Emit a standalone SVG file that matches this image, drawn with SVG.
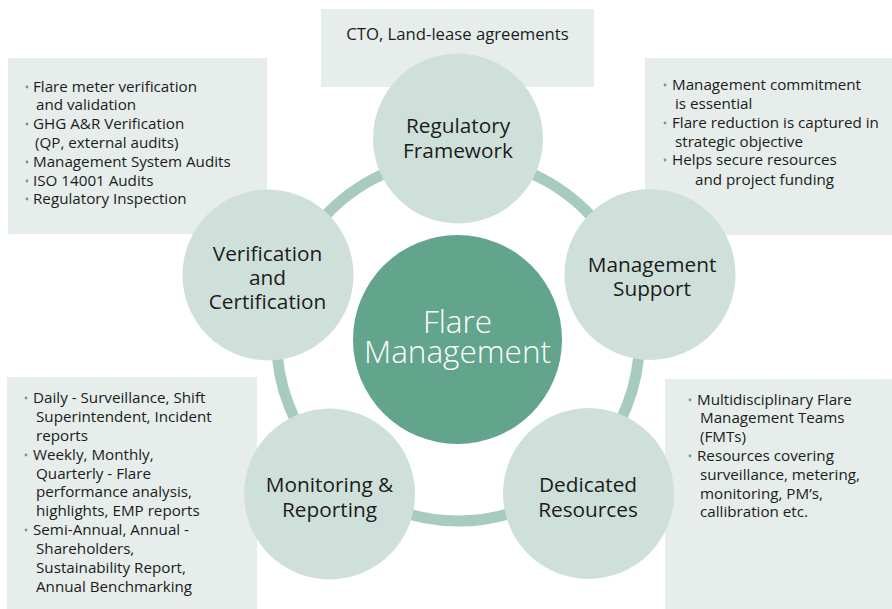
<svg xmlns="http://www.w3.org/2000/svg" width="892" height="609" viewBox="0 0 892 609">
<style>
.box{fill:#e6edeb}
.sat{fill:#cfe0da}
.core{fill:#62a48c}
.ring{fill:none;stroke:#a8cbbf;stroke-width:11}
.b{font-family:"Open Sans","Liberation Sans",sans-serif;font-size:15.2px;fill:#1c1c1c}
.top{font-family:"Open Sans","Liberation Sans",sans-serif;font-size:16.7px;fill:#1c1c1c}
.lab{font-family:"Open Sans","Liberation Sans",sans-serif;font-size:20.8px;fill:#1c1c1c;text-anchor:middle}
.ctr{font-family:"Open Sans","Liberation Sans",sans-serif;font-size:31.5px;font-weight:300;fill:#ffffff;text-anchor:middle}
.dot{fill:#5fa38a}
</style>
<rect width="892" height="609" fill="#ffffff"/>
<g id="boxes">
<g id="box-top"><rect class="box" x="321" y="9" width="273" height="78"/>
<text class="top" x="457.5" y="40" text-anchor="middle">CTO, Land-lease agreements</text></g>
<g id="box-top-left"><rect class="box" x="8" y="58" width="259" height="176"/>
<circle class="dot" cx="27" cy="87" r="1.4"/><text class="b" x="33" y="92">Flare meter verification</text>
<text class="b" x="36" y="110">and validation</text>
<circle class="dot" cx="27" cy="124" r="1.4"/><text class="b" x="33" y="129">GHG A&amp;R Verification</text>
<text class="b" x="35" y="148">(QP, external audits)</text>
<circle class="dot" cx="27" cy="162" r="1.4"/><text class="b" x="33" y="167">Management System Audits</text>
<circle class="dot" cx="27" cy="181" r="1.4"/><text class="b" x="33" y="186">ISO 14001 Audits</text>
<circle class="dot" cx="27" cy="199" r="1.4"/><text class="b" x="33" y="204">Regulatory Inspection</text></g>
<g id="box-top-right"><rect class="box" x="645" y="58" width="247" height="177"/>
<circle class="dot" cx="665" cy="85" r="1.4"/><text class="b" x="672" y="90">Management commitment</text>
<text class="b" x="675" y="109">is essential</text>
<circle class="dot" cx="665" cy="123" r="1.4"/><text class="b" x="672" y="128">Flare reduction is captured in</text>
<text class="b" x="675" y="147">strategic objective</text>
<circle class="dot" cx="665" cy="160" r="1.4"/><text class="b" x="672" y="165">Helps secure resources</text>
<text class="b" x="695" y="185">and project funding</text></g>
<g id="box-bottom-left"><rect class="box" x="7" y="377" width="250" height="232"/>
<circle class="dot" cx="26" cy="398" r="1.4"/><text class="b" x="33" y="403">Daily - Surveillance, Shift</text>
<text class="b" x="36" y="422">Superintendent, Incident</text>
<text class="b" x="36" y="441">reports</text>
<circle class="dot" cx="26" cy="455" r="1.4"/><text class="b" x="33" y="460">Weekly, Monthly,</text>
<text class="b" x="36" y="479">Quarterly - Flare</text>
<text class="b" x="36" y="497">performance analysis,</text>
<text class="b" x="36" y="516">highlights, EMP reports</text>
<circle class="dot" cx="26" cy="530" r="1.4"/><text class="b" x="33" y="535">Semi-Annual, Annual -</text>
<text class="b" x="36" y="554">Shareholders,</text>
<text class="b" x="36" y="573">Sustainability Report,</text>
<text class="b" x="36" y="592">Annual Benchmarking</text></g>
<g id="box-bottom-right"><rect class="box" x="665" y="379" width="227" height="230"/>
<circle class="dot" cx="690" cy="400" r="1.4"/><text class="b" x="697" y="405">Multidisciplinary Flare</text>
<text class="b" x="700" y="423">Management Teams</text>
<text class="b" x="700" y="442">(FMTs)</text>
<circle class="dot" cx="690" cy="456" r="1.4"/><text class="b" x="697" y="461">Resources covering</text>
<text class="b" x="700" y="480">surveillance, metering,</text>
<text class="b" x="700" y="499">monitoring, PM’s,</text>
<text class="b" x="700" y="517">callibration etc.</text></g>
</g>
<g id="connectors">
<circle class="ring" cx="458" cy="339.5" r="181.5"/>
</g>
<g id="node-core"><circle class="core" cx="457.5" cy="339.5" r="104.5"/>
<text class="ctr" x="457.5" y="333">Flare</text>
<text class="ctr" x="457.5" y="363">Management</text></g>
<g id="node-regulatory"><circle class="sat" cx="458" cy="138.5" r="85"/>
<text class="lab" x="458" y="133">Regulatory</text>
<text class="lab" x="458" y="158">Framework</text></g>
<g id="node-management"><circle class="sat" cx="650" cy="274.5" r="85.5"/>
<text class="lab" x="652" y="272">Management</text>
<text class="lab" x="652" y="296">Support</text></g>
<g id="node-dedicated"><circle class="sat" cx="588.5" cy="493.5" r="85.5"/>
<text class="lab" x="588" y="492">Dedicated</text>
<text class="lab" x="588" y="517">Resources</text></g>
<g id="node-monitoring"><circle class="sat" cx="329.5" cy="494" r="85.5"/>
<text class="lab" x="329.5" y="492">Monitoring &amp;</text>
<text class="lab" x="329.5" y="517">Reporting</text></g>
<g id="node-verification"><circle class="sat" cx="268" cy="275" r="85.5"/>
<text class="lab" x="267.5" y="261">Verification</text>
<text class="lab" x="267.5" y="285">and</text>
<text class="lab" x="267.5" y="309">Certification</text></g>
</svg>
